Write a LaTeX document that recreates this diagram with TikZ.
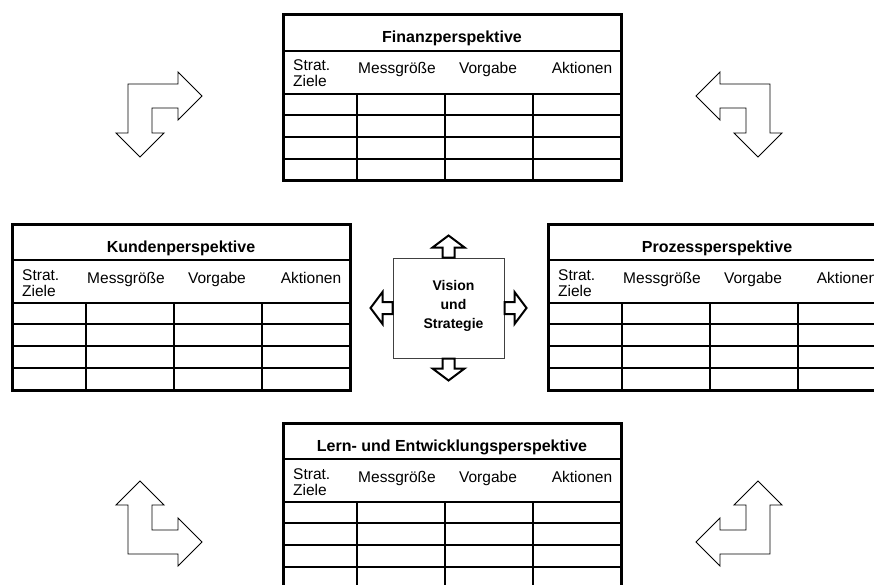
\documentclass[tikz,border=0pt]{standalone}
\usepackage{fontspec}
\setmainfont{Liberation Sans}
\usetikzlibrary{calc}

% One scorecard table: #1 name, #2 left, #3 top, #4 title
\newcommand\bsctable[4]{%
  \begin{scope}[shift={(#2,#3)}]
    \node[tblframe] (#1) at (0,0) {};
    \draw[tblrule] (#1.north west) ++(0,36) -- ++(338,0);
    \draw[tblrule] (#1.north west) ++(0,79) -- ++(338,0);
    \foreach \r in {100,122,144}
      \draw[tblrule] (#1.north west) ++(0,\r) -- ++(338,0);
    \foreach \c in {74,162,250}
      \draw[tblrule] (#1.north west) ++(\c,79) -- ++(0,87);
    \draw[line width=3pt] (#1.north west) rectangle (#1.south east);
    \node[titletext] (#1-title) at (169,28) {#4};
    \node[headtext,anchor=base west] (#1-strat) at (10,56) {Strat.};
    \node[headtext,anchor=base west] (#1-ziele) at (10,72) {Ziele};
    \node[headtext,anchor=base] (#1-mess) at (114,59) {Messgröße};
    \node[headtext,anchor=base] (#1-vorg) at (205,59) {Vorgabe};
    \node[headtext,anchor=base] (#1-akt) at (299,59) {Aktionen};
  \end{scope}}

\begin{document}
\begin{tikzpicture}[x=1pt,y=-1pt,
  tblframe/.style={fill=white,minimum width=338pt,minimum height=166pt,
    anchor=north west,inner sep=0pt,outer sep=0pt},
  tblrule/.style={line width=1.6pt},
  titletext/.style={font=\fontsize{16}{19}\selectfont\bfseries,inner sep=0pt,anchor=base},
  headtext/.style={font=\fontsize{15.5}{18}\selectfont,inner sep=0pt},
  visionbox/.style={draw=black!75,line width=1pt,fill=white,minimum width=111pt,
    minimum height=100pt,inner sep=0pt},
  visiontext/.style={inner sep=0pt,align=center,
    font=\fontsize{14}{19}\selectfont\bfseries},
  fatarrow/.style={draw=black,line width=2pt,fill=white,line join=miter},
  bentarrow/.style={draw=black,line width=0.9pt,fill=white,line join=miter}
]
\useasboundingbox (0,0) rectangle (874,585);
\clip (0,0) rectangle (874,585);

% the four perspectives
\bsctable{fin}{283}{15}{Finanzperspektive}
\bsctable{kun}{12}{224}{Kundenperspektive}
\bsctable{pro}{548}{224}{Prozessperspektive}
\bsctable{lern}{283}{423}{Lern- und Entwicklungsperspektive}

% vision and strategy in the middle
\node[visionbox] (vis) at (448.5,308) {};
\node[visiontext] (vis-text) at ($(vis.center)+(5,-2)$) {Vision\\und\\Strategie};

% outward arrows from the vision box
\draw[fatarrow] (vis.north) ++(-6,0) -- ++(0,-10) -- ++(-10,0) -- ++(16,-12)
  -- ++(16,12) -- ++(-10,0) -- ++(0,10) -- cycle;
\draw[fatarrow] (vis.south) ++(-6,0) -- ++(0,10) -- ++(-10,0) -- ++(16,12)
  -- ++(16,-12) -- ++(-10,0) -- ++(0,-10) -- cycle;
\draw[fatarrow] (vis.west) ++(0,-6) -- ++(-10,0) -- ++(0,-10) -- ++(-12,16)
  -- ++(12,16) -- ++(0,-10) -- ++(10,0) -- cycle;
\draw[fatarrow] (vis.east) ++(0,-6) -- ++(10,0) -- ++(0,-10) -- ++(12,16)
  -- ++(-12,16) -- ++(0,-10) -- ++(-10,0) -- cycle;

% bent arrows in the corners
\draw[bentarrow] (128,84) -- (178,84) -- (178,72) -- (202,96) -- (178,120)
  -- (178,108) -- (152,108) -- (152,133) -- (164,133) -- (140,157)
  -- (116,133) -- (128,133) -- cycle;
\draw[bentarrow] (770,84) -- (720,84) -- (720,72) -- (696,96) -- (720,120)
  -- (720,108) -- (746,108) -- (746,133) -- (734,133) -- (758,157)
  -- (782,133) -- (770,133) -- cycle;
\draw[bentarrow] (128,554) -- (128,505) -- (116,505) -- (140,481) -- (164,505)
  -- (152,505) -- (152,530) -- (178,530) -- (178,518) -- (202,542)
  -- (178,566) -- (178,554) -- cycle;
\draw[bentarrow] (770,554) -- (770,505) -- (782,505) -- (758,481) -- (734,505)
  -- (746,505) -- (746,530) -- (720,530) -- (720,518) -- (696,542)
  -- (720,566) -- (720,554) -- cycle;
\end{tikzpicture}
\end{document}
